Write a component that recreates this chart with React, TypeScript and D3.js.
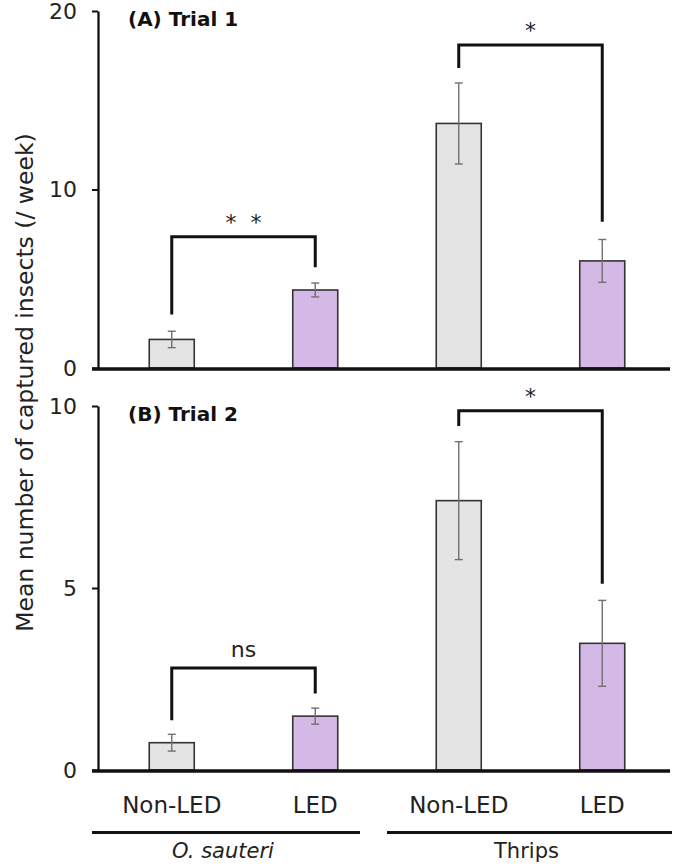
import React, { useEffect, useRef } from "react";
import * as d3 from "d3";

const categories = ["OS-NonLED", "OS-LED", "TH-NonLED", "TH-LED"];
const conditionLabels = ["Non-LED", "LED", "Non-LED", "LED"];
const groupLabels = ["O. sauteri", "Thrips"];
const groupItalic = [true, false];
const barColors = ["#e5e4e5", "#d4b8e6", "#e5e4e5", "#d4b8e6"];

const trial1Means = [1.6, 4.37, 13.7, 6.0];
const trial1Errors = [0.46, 0.39, 2.27, 1.2];
const trial2Means = [0.75, 1.48, 7.4, 3.48];
const trial2Errors = [0.23, 0.22, 1.62, 1.18];

const trial1Ticks = [0, 10, 20];
const trial2Ticks = [0, 5, 10];

const trial1Brackets = [
  { from: 0, to: 1, leftEnd: 3.0, top: 7.35, rightEnd: 5.65, label: "* *" },
  { from: 2, to: 3, leftEnd: 16.8, top: 18.1, rightEnd: 8.2, label: "*" },
];
const trial2Brackets = [
  { from: 0, to: 1, leftEnd: 1.37, top: 2.8, rightEnd: 2.1, label: "ns" },
  { from: 2, to: 3, leftEnd: 9.45, top: 9.87, rightEnd: 5.12, label: "*" },
];

const panelTitles = ["(A) Trial 1", "(B) Trial 2"];
const yLabel = "Mean number of captured insects (/ week)";

const FONT = "'DejaVu Sans', Verdana, sans-serif";

export default function App() {
  const ref = useRef<SVGSVGElement | null>(null);

  useEffect(() => {
    const svg = d3.select(ref.current);
    svg.selectAll("*").remove();

    const x = d3.scalePoint<string>().domain(categories).range([100, 674]).padding(0.5);
    const barW = 45;
    const axisX = 98;

    const panels = [
      { means: trial1Means, errs: trial1Errors, ticks: trial1Ticks, brackets: trial1Brackets, y: d3.scaleLinear().domain([0, 20]).range([368, 11]), title: panelTitles[0] },
      { means: trial2Means, errs: trial2Errors, ticks: trial2Ticks, brackets: trial2Brackets, y: d3.scaleLinear().domain([0, 10]).range([770, 406]), title: panelTitles[1] },
    ];

    panels.forEach((p) => {
      const g = svg.append("g");
      const y = p.y;

      g.selectAll("rect.bar")
        .data(p.means)
        .enter()
        .append("rect")
        .attr("x", (_d, i) => (x(categories[i]) as number) - barW / 2)
        .attr("y", (d) => y(d))
        .attr("width", barW)
        .attr("height", (d) => y(0) - y(d))
        .attr("fill", (_d, i) => barColors[i])
        .attr("stroke", "#333")
        .attr("stroke-width", 1.6);

      p.means.forEach((m, i) => {
        const cx = x(categories[i]) as number;
        const e = p.errs[i];
        const eg = g.append("g").attr("stroke", "#707070").attr("stroke-width", 1.4);
        eg.append("line").attr("x1", cx).attr("x2", cx).attr("y1", y(m + e)).attr("y2", y(m - e));
        eg.append("line").attr("x1", cx - 4).attr("x2", cx + 4).attr("y1", y(m + e)).attr("y2", y(m + e));
        eg.append("line").attr("x1", cx - 4).attr("x2", cx + 4).attr("y1", y(m - e)).attr("y2", y(m - e));
      });

      const ax = g.append("g").attr("transform", `translate(${axisX},0)`)
        .call(d3.axisLeft(y).tickValues(p.ticks).tickSize(6).tickSizeOuter(0).tickPadding(15).tickFormat(d3.format("d")));
      ax.select(".domain").attr("stroke", "#111").attr("stroke-width", 2.3);
      ax.selectAll(".tick line").attr("stroke", "#111").attr("stroke-width", 2);
      ax.selectAll(".tick text").attr("font-family", FONT).attr("font-size", 22).attr("fill", "#222");

      g.append("line").attr("x1", 92).attr("x2", 670).attr("y1", y(0) + 1).attr("y2", y(0) + 1)
        .attr("stroke", "#111").attr("stroke-width", 3.5);

      p.brackets.forEach((b) => {
        const x1 = x(categories[b.from]) as number;
        const x2 = x(categories[b.to]) as number;
        const path = d3.path();
        path.moveTo(x1, y(b.leftEnd));
        path.lineTo(x1, y(b.top));
        path.lineTo(x2, y(b.top));
        path.lineTo(x2, y(b.rightEnd));
        g.append("path").attr("d", path.toString()).attr("fill", "none").attr("stroke", "#111").attr("stroke-width", 3);
        const mid = (x1 + x2) / 2;
        const ty = y(b.top);
        if (b.label === "ns") {
          g.append("text").attr("x", mid).attr("y", ty - 11).attr("text-anchor", "middle")
            .attr("font-family", FONT).attr("font-size", 22).attr("fill", "#222").text("ns");
        } else {
          const stars = b.label.split(" ");
          stars.forEach((s, k) => {
            const off = (k - (stars.length - 1) / 2) * 25;
            g.append("text").attr("x", mid + off).attr("y", ty - 19 + 12).attr("text-anchor", "middle")
              .attr("font-family", FONT).attr("font-size", 22).attr("fill", "#222").text(s);
          });
        }
      });

      g.append("text").attr("x", 128).attr("y", y.range()[1] + 15).attr("font-family", FONT)
        .attr("font-weight", "bold").attr("font-size", 20).attr("fill", "#111").text(p.title);
    });

    categories.forEach((c, i) => {
      svg.append("text").attr("x", x(c) as number).attr("y", 813).attr("text-anchor", "middle")
        .attr("font-family", FONT).attr("font-size", 23).attr("fill", "#222").text(conditionLabels[i]);
    });

    const mid = ((x(categories[1]) as number) + (x(categories[2]) as number)) / 2;
    const groupSpans = [
      [92, mid - 27],
      [mid, 672],
    ];
    groupSpans.forEach((s, i) => {
      svg.append("line").attr("x1", s[0]).attr("x2", s[1]).attr("y1", 832.5).attr("y2", 832.5)
        .attr("stroke", "#111").attr("stroke-width", 3.2);
      svg.append("text").attr("x", (s[0] + s[1]) / 2 - 3).attr("y", 858).attr("text-anchor", "middle")
        .attr("font-family", FONT).attr("font-size", 21).attr("font-style", groupItalic[i] ? "italic" : "normal")
        .attr("fill", "#222").text(groupLabels[i]);
    });

    svg.append("text").attr("transform", `translate(33,382.5) rotate(-90)`).attr("text-anchor", "middle")
      .attr("font-family", FONT).attr("font-size", 23.5).attr("fill", "#222").text(yLabel);
  }, []);

  return (
    <svg ref={ref} width={675} height={867} style={{ position: "absolute", left: 0, top: 0, background: "#fff" }} />
  );
}
